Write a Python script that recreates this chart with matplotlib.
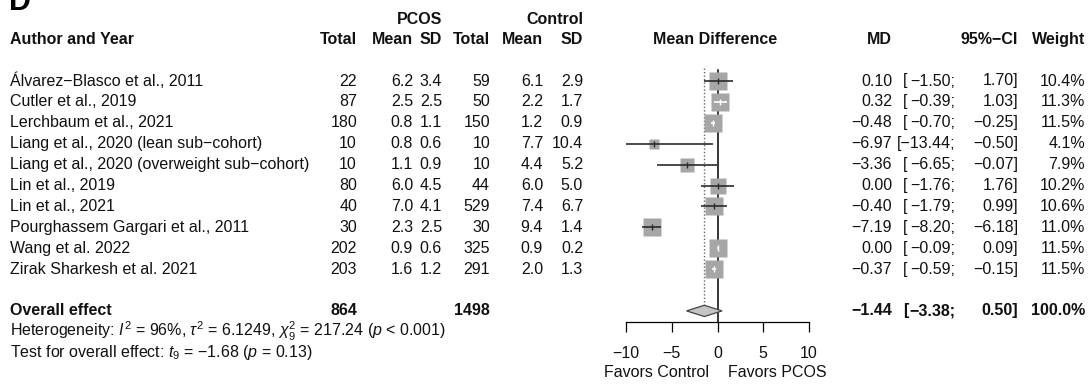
import numpy as np
import matplotlib
matplotlib.use("Agg")
import matplotlib.pyplot as plt
import matplotlib.transforms as mtransforms

plt.rcParams['font.family'] = ['Liberation Sans', 'DejaVu Sans']
plt.rcParams['mathtext.fontset'] = 'custom'
plt.rcParams['mathtext.rm'] = 'Liberation Sans'
plt.rcParams['mathtext.it'] = 'Liberation Sans:italic'
plt.rcParams['mathtext.bf'] = 'Liberation Sans:bold'

studies = ["Álvarez\u2212Blasco et al., 2011", "Cutler et al., 2019", "Lerchbaum et al., 2021",
           "Liang et al., 2020 (lean sub\u2212cohort)", "Liang et al., 2020 (overweight sub\u2212cohort)",
           "Lin et al., 2019", "Lin et al., 2021", "Pourghassem Gargari et al., 2011",
           "Wang et al. 2022", "Zirak Sharkesh et al. 2021"]
n_pcos = [22, 87, 180, 10, 10, 80, 40, 30, 202, 203]
mean_pcos = [6.2, 2.5, 0.8, 0.8, 1.1, 6.0, 7.0, 2.3, 0.9, 1.6]
sd_pcos = [3.4, 2.5, 1.1, 0.6, 0.9, 4.5, 4.1, 2.5, 0.6, 1.2]
n_ctrl = [59, 50, 150, 10, 10, 44, 529, 30, 325, 291]
mean_ctrl = [6.1, 2.2, 1.2, 7.7, 4.4, 6.0, 7.4, 9.4, 0.9, 2.0]
sd_ctrl = [2.9, 1.7, 0.9, 10.4, 5.2, 5.0, 6.7, 1.4, 0.2, 1.3]
md = [0.10, 0.32, -0.48, -6.97, -3.36, 0.00, -0.40, -7.19, 0.00, -0.37]
ci_lo = [-1.50, -0.39, -0.70, -13.44, -6.65, -1.76, -1.79, -8.20, -0.09, -0.59]
ci_hi = [1.70, 1.03, -0.25, -0.50, -0.07, 1.76, 0.99, -6.18, 0.09, -0.15]
weight = [10.4, 11.3, 11.5, 4.1, 7.9, 10.2, 10.6, 11.0, 11.5, 11.5]

overall_md, overall_lo, overall_hi = -1.44, -3.38, 0.50
total_pcos, total_ctrl = 864, 1498
x_ticks = [-10, -5, 0, 5, 10]

W, H = 1089, 385
FS = 11.5


def fx(px):
    return px / W


def num(v, fmt):
    return format(v, fmt).replace('-', '\u2212')


fig = plt.figure(figsize=(W / 100, H / 100), dpi=100)
ax = fig.add_axes([fx(626), 0, fx(809) - fx(626), 1])
ax.set_xlim(-10, 10)
row_px0, row_step = 81, 20.9
ax.set_ylim((H - row_px0) / row_step, -row_px0 / row_step)
ax.patch.set_visible(False)
for s in ['top', 'left', 'right']:
    ax.spines[s].set_visible(False)
axis_row = 11.53
ax.spines['bottom'].set_position(('data', axis_row))
ax.spines['bottom'].set_bounds(-10, 10)
ax.spines['bottom'].set_linewidth(0.9)
ax.set_yticks([])
ax.set_xticks(x_ticks)
ax.tick_params(axis='x', length=7, width=0.9, pad=10, labelsize=FS, labelcolor='#111111')

rows = np.arange(len(studies))
px_per_unit = 183 / 20.0

# reference lines
ax.plot([0, 0], [-0.55, axis_row], color='black', lw=1.1, zorder=1)
ax.plot([overall_md, overall_md], [-0.6, 11], color='#666666', lw=1.0, ls=(0, (1, 1.5)), zorder=1)

# study squares + CIs
for i in rows:
    side_px = 5.3 * np.sqrt(weight[i])
    half = side_px / 2 / px_per_unit
    ax.plot(md[i], i, marker='s', ms=side_px * 0.72, color='#a6a6a6', mec='none', zorder=2)
    inside = (md[i] - ci_lo[i] < half) and (ci_hi[i] - md[i] < half)
    c = 'white' if inside else '#2b2b2b'
    ax.plot([ci_lo[i], ci_hi[i]], [i, i], color=c, lw=1.2, zorder=3, solid_capstyle='butt')
    ax.plot(md[i], i, marker='|', ms=5, mew=1.0, color=c, zorder=4)

# overall diamond
dh = 0.27
ax.fill([overall_lo, overall_md, overall_hi, overall_md], [11, 11 - dh, 11, 11 + dh],
        facecolor='#c4c4c4', edgecolor='#444444', lw=0.9, zorder=3)

tr = mtransforms.blended_transform_factory(fig.transFigure, ax.transData)


def put(px, row, s, ha='right', bold=False, size=FS, **kw):
    fig.text(fx(px), row, s, transform=tr, ha=ha, va='center', fontsize=size,
             fontweight='bold' if bold else 'normal', color='#111111', **kw)


# panel letter
fig.text(fx(9), -3.42, "D", transform=tr, ha='left', va='baseline', fontsize=22, fontweight='bold')

# headers
put(442, -2.92, "PCOS", bold=True)
put(583, -2.92, "Control", bold=True)
put(10, -1.97, "Author and Year", ha='left', bold=True)
for px, lab in [(357, "Total"), (413, "Mean"), (442, "SD"), (490, "Total"), (543, "Mean"), (583, "SD"),
                (892, "MD"), (1018, "95%\u2212CI"), (1085, "Weight")]:
    put(px, -1.97, lab, bold=True)
put(715, -1.97, "Mean Difference", ha='center', bold=True)

# study rows
for i in rows:
    put(10, i, studies[i], ha='left')
    put(357, i, str(n_pcos[i]))
    put(413, i, num(mean_pcos[i], '.1f'))
    put(442, i, num(sd_pcos[i], '.1f'))
    put(490, i, str(n_ctrl[i]))
    put(543, i, num(mean_ctrl[i], '.1f'))
    put(583, i, num(sd_ctrl[i], '.1f'))
    put(892, i, num(md[i], '.2f'))
    if ci_lo[i] <= -10:
        put(955, i, "[" + num(ci_lo[i], '.2f') + ";")
    else:
        put(903, i, "[", ha='left')
        put(955, i, num(ci_lo[i], '.2f') + ";")
    put(1018, i, num(ci_hi[i], '.2f') + "]")
    put(1085, i, num(weight[i], '.1f') + "%")

# overall row
put(10, 11, "Overall effect", ha='left', bold=True)
put(357, 11, str(total_pcos), bold=True)
put(490, 11, str(total_ctrl), bold=True)
put(892, 11, num(overall_md, '.2f'), bold=True)
put(903, 11, "[", ha='left', bold=True)
put(955, 11, num(overall_lo, '.2f') + ";", bold=True)
put(1018, 11, num(overall_hi, '.2f') + "]", bold=True)
put(1085, 11, "100.0%", bold=True)

put(10, 11.98, r"Heterogeneity: $I^2$ = 96%, $\tau^2$ = 6.1249, $\chi^2_9$ = 217.24 ($p$ < 0.001)",
    ha='left')
put(10, 12.97, "Test for overall effect: $t_9$ = \u22121.68 ($p$ = 0.13)", ha='left')

# favours labels
ax.text(-0.9, 13.97, "Favors Control", ha='right', va='center', fontsize=FS, color='#111111')
ax.text(1.1, 13.97, "Favors PCOS", ha='left', va='center', fontsize=FS, color='#111111')

fig.savefig("out.png", dpi=100)
